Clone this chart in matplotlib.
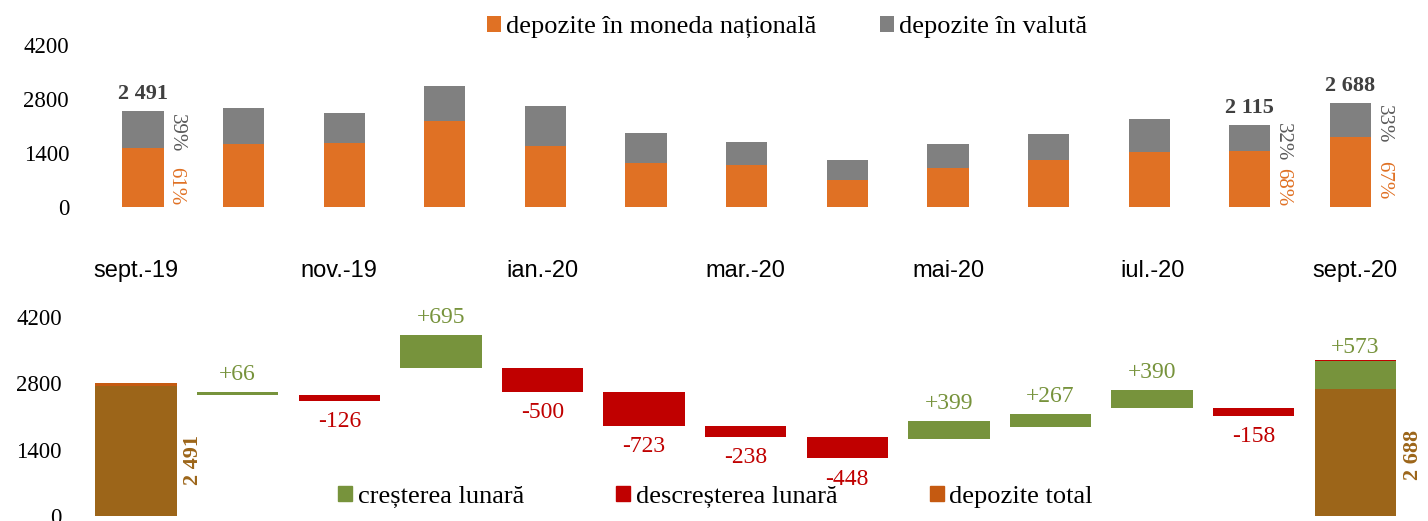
import numpy as np
import matplotlib
matplotlib.use("Agg")
import matplotlib.pyplot as plt
from matplotlib.patches import Patch

plt.rcParams["font.family"] = ["Liberation Serif", "DejaVu Serif"]

# --- data ---
months = ["sept.-19", "oct.-19", "nov.-19", "dec.-19", "ian.-20", "feb.-20",
          "mar.-20", "apr.-20", "mai-20", "iun.-20", "iul.-20", "aug.-20",
          "sept.-20"]
dep_mdl = [1520, 1618, 1651, 2237, 1584, 1135, 1068, 689, 991, 1205, 1419,
           1438, 1801]
dep_valuta = [971, 939, 780, 889, 1042, 768, 597, 528, 625, 678, 854, 677,
              887]
labeled_months = [0, 11, 12]

start_total = 2491
end_total = 2688
monthly_change = [66, -126, 695, -500, -723, -238, -448, 399, 267, 390, -158]
year_change = 573
first_bar_drawn = 2800   # first total bar is drawn taller than its label
first_cap = 50
last_cap = 40

ORANGE = "#E07124"
GREY = "#808080"
GREEN = "#77933C"
RED = "#C00000"
BROWN = "#9C6519"
TOTAL_ORANGE = "#C55A11"

fig = plt.figure(figsize=(14.28, 5.21), dpi=100)
ax1 = fig.add_axes([0.0649, 0.6036, 0.916, 0.31])
ax2 = fig.add_axes([0.0597, 0.0096, 0.925, 0.382])

x = np.arange(len(months))
mdl = np.array(dep_mdl)
val = np.array(dep_valuta)
tot = mdl + val

# --- top: stacked structure ---
ax1.bar(x, mdl, width=0.41, color=ORANGE, label="depozite în moneda națională")
ax1.bar(x, val, width=0.41, bottom=mdl, color=GREY, label="depozite în valută")

for i in labeled_months:
    ax1.annotate(f"{tot[i]:,}".replace(",", " "), (x[i], tot[i]),
                 xytext=(0, 5), textcoords="offset points", ha="center",
                 va="bottom", fontsize=16, fontweight="bold", color="#404040")
    ax1.annotate(f"{round(val[i] / tot[i] * 100)}%", (x[i] + 0.205, mdl[i] + val[i] / 2),
                 xytext=(9, -3), textcoords="offset points", ha="center",
                 va="center", rotation=-90, fontsize=15, color="#595959")
    ax1.annotate(f"{round(mdl[i] / tot[i] * 100)}%", (x[i] + 0.205, mdl[i] / 2),
                 xytext=(9, -6), textcoords="offset points", ha="center",
                 va="center", rotation=-90, fontsize=15, color=ORANGE)

ax1.set_xlim(-0.5, len(months) - 0.5)
ax1.set_ylim(0, 4200)
ax1.set_yticks([0, 1400, 2800, 4200])
ax1.set_xticks([])
ax1.tick_params(axis="y", length=0, pad=17, labelsize=16.5)
for s in ax1.spines.values():
    s.set_visible(False)

# --- bottom: monthly waterfall ---
ends = start_total + np.cumsum(monthly_change)
chg = np.array(monthly_change)
xc = x[1:-1]
colors = [GREEN if c > 0 else RED for c in chg]
ax2.bar(xc, np.abs(chg), bottom=ends, width=0.8, color=colors)
for xi, e, c in zip(xc, ends, chg):
    if c > 0:
        ax2.annotate(f"+{c}", (xi, e + c), xytext=(0, 12.5), textcoords="offset points",
                     ha="center", va="center", fontsize=17, color=GREEN)
    else:
        ax2.annotate(f"{c}", (xi, e), xytext=(0, -15), textcoords="offset points",
                     ha="center", va="center", fontsize=17, color=RED)

# totals
ax2.bar(x[0], first_bar_drawn - first_cap, width=0.8, color=BROWN)
ax2.bar(x[0], first_cap, bottom=first_bar_drawn - first_cap, width=0.8,
        color=TOTAL_ORANGE)
ax2.bar(x[-1], end_total, width=0.8, color=BROWN)
ax2.bar(x[-1], year_change, bottom=end_total, width=0.8, color=GREEN)
ax2.bar(x[-1], last_cap, bottom=end_total + year_change, width=0.8, color=RED)
ax2.annotate(f"+{year_change}", (x[-1], end_total + year_change + last_cap),
             xytext=(0, 9), textcoords="offset points", ha="center", va="center",
             fontsize=17, color=GREEN)
for xi, v, yy in [(x[0], start_total, 1180), (x[-1], end_total, 1290)]:
    ax2.annotate(f"{v:,}".replace(",", " "), (xi + 0.4, yy), xytext=(12, 0),
                 textcoords="offset points", ha="center", va="center",
                 rotation=90, fontsize=16, fontweight="bold", color=BROWN)

ax2.set_xlim(-0.5, len(months) - 0.5)
ax2.set_ylim(0, 4200)
ax2.set_yticks([0, 1400, 2800, 4200])
ax2.set_xticks(x[::2])
ax2.set_xticklabels(months[::2], family=["Liberation Sans Narrow", "Liberation Sans"],
                    fontsize=17)
ax2.xaxis.tick_top()
ax2.tick_params(axis="x", length=0, pad=25)
ax2.tick_params(axis="y", length=0, pad=17, labelsize=16.5)
for s in ax2.spines.values():
    s.set_visible(False)

# legends
fig.legend(loc="center", bbox_to_anchor=(0.551, 0.948), ncol=2, frameon=False,
           fontsize=19, handlelength=0.53, handleheight=0.53, handletextpad=0.2,
           columnspacing=2.4)
handles = [Patch(color=GREEN, label="creșterea lunară"),
           Patch(color=RED, label="descreșterea lunară"),
           Patch(color=TOTAL_ORANGE, label="depozite total")]
fig.legend(handles=handles, loc="center", bbox_to_anchor=(0.501, 0.046), ncol=3,
           frameon=False, fontsize=19, handlelength=0.53, handleheight=0.53,
           handletextpad=0.2, columnspacing=3.5)

fig.savefig("out.png", dpi=100)
